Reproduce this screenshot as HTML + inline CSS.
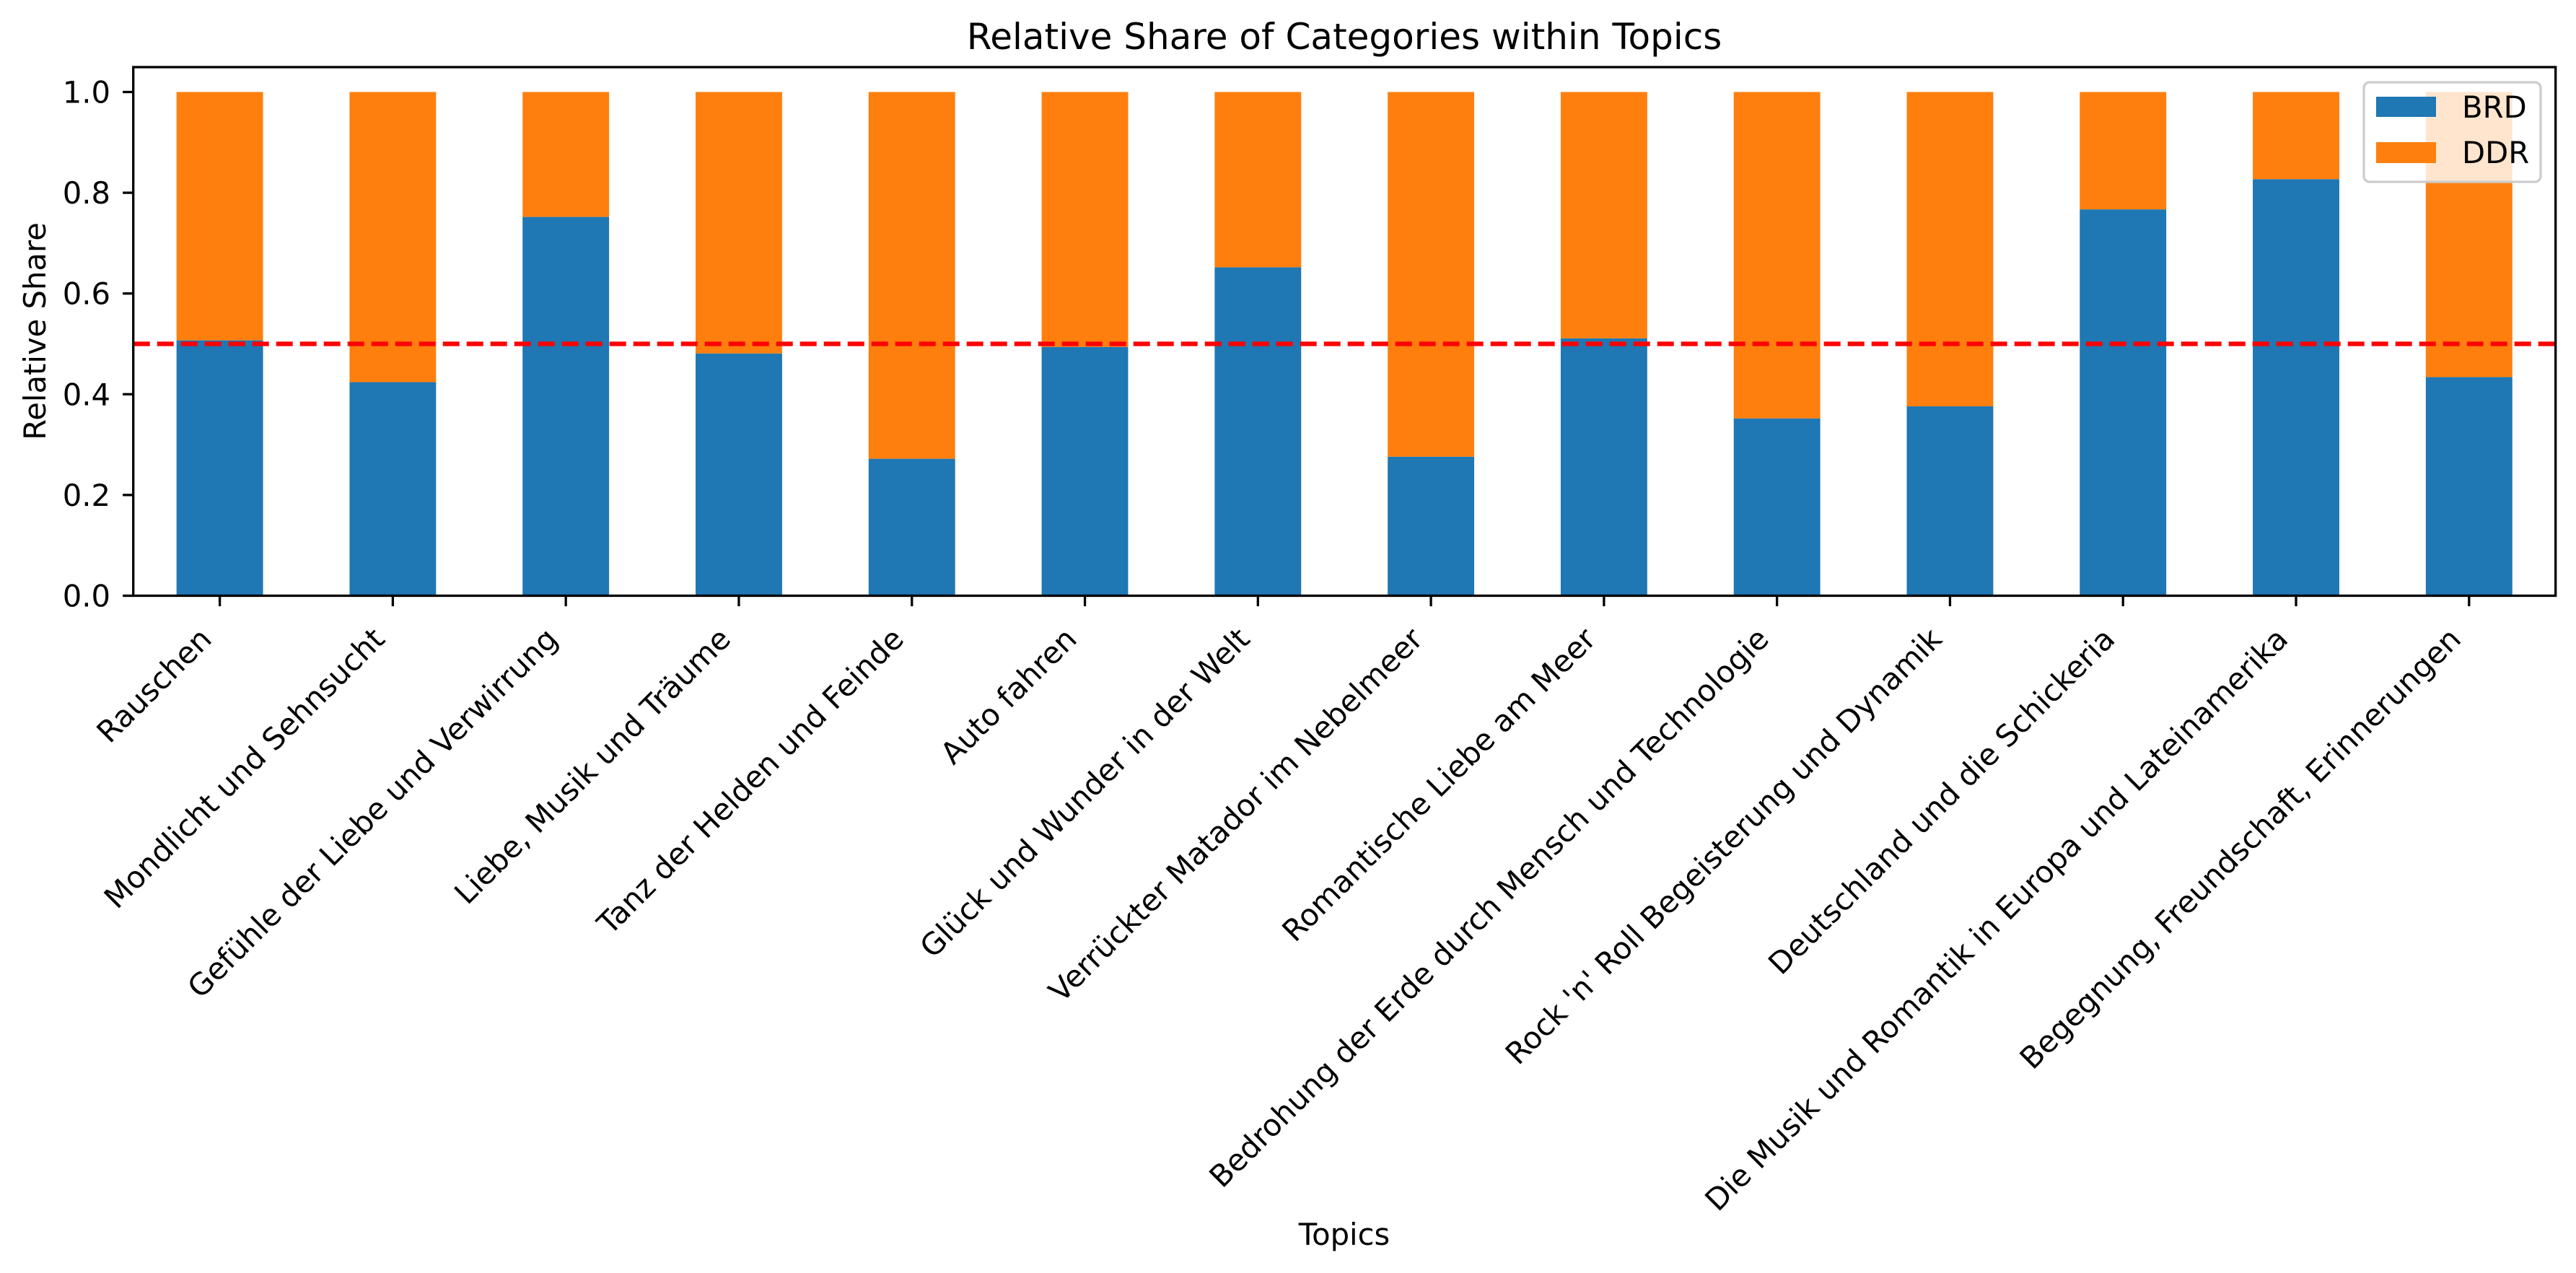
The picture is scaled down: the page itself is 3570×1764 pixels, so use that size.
<!DOCTYPE html>
<html><head><meta charset="utf-8"><style>
html,body{margin:0;padding:0;background:#fff;}
svg{display:block;font-family:"DejaVu Sans","Liberation Sans",sans-serif;}
</style></head><body>
<svg id="chart" width="3570" height="1764" viewBox="0 0 3570 1764" xmlns="http://www.w3.org/2000/svg">
<rect x="0" y="0" width="3570" height="1764" fill="#fff"/>
<text x="1863" y="68" font-size="50" text-anchor="middle" fill="#000">Relative Share of Categories within Topics</text>
<text x="0" y="0" font-size="41.7" text-anchor="middle" fill="#000" transform="translate(63,459) rotate(-90)">Relative Share</text>
<text x="1863" y="1725" font-size="41.7" text-anchor="middle" fill="#000">Topics</text>
<g id="bars"></g>
<g id="xticks"></g>
<g id="yticks"></g>
<line id="refline" stroke="#ff0000" stroke-width="6.25" stroke-dasharray="23,10"/>
<rect x="184.7" y="93" width="3357" height="732.5" fill="none" stroke="#000" stroke-width="3.3"/>
<g>
<rect x="3276" y="114" width="245" height="138" rx="8" fill="#fff" fill-opacity="0.8" stroke="#cccccc" stroke-width="3.3"/>
<rect x="3293" y="134" width="83" height="28" fill="#1f77b4"/>
<text x="3412" y="163" font-size="41.7" fill="#000">BRD</text>
<rect x="3293" y="197" width="83" height="29" fill="#ff7f0e"/>
<text x="3412" y="226" font-size="41.7" fill="#000">DDR</text>
</g>
</svg>
<script>
const categories = ["Rauschen","Mondlicht und Sehnsucht","Gefühle der Liebe und Verwirrung","Liebe, Musik und Träume","Tanz der Helden und Feinde","Auto fahren","Glück und Wunder in der Welt","Verrückter Matador im Nebelmeer","Romantische Liebe am Meer","Bedrohung der Erde durch Mensch und Technologie","Rock 'n' Roll Begeisterung und Dynamik","Deutschland und die Schickeria","Die Musik und Romantik in Europa und Lateinamerika","Begegnung, Freundschaft, Erinnerungen"];
const brdValues = [0.507,0.424,0.752,0.481,0.272,0.494,0.652,0.276,0.511,0.352,0.376,0.767,0.827,0.434];
const ddrValues = [0.493,0.576,0.248,0.519,0.728,0.506,0.348,0.724,0.489,0.648,0.624,0.233,0.173,0.566];
const yTicks = [0.0,0.2,0.4,0.6,0.8,1.0];
const yTickLabels = ["0.0","0.2","0.4","0.6","0.8","1.0"];
const refValue = 0.5;

const NS="http://www.w3.org/2000/svg";
const L=184.7,R=3541.7,Y0=825.5,UNIT=698;
const n=categories.length;
const step=(R-L)/n;
function xc(i){return L+step*(i+0.5);}
function y(v){return Y0-v*UNIT;}
const bw=step*0.5;
const bars=document.getElementById('bars');
for(let i=0;i<n;i++){
  const b=document.createElementNS(NS,'rect');
  b.setAttribute('x',xc(i)-bw/2);b.setAttribute('width',bw);
  b.setAttribute('y',y(brdValues[i]));b.setAttribute('height',Y0-y(brdValues[i]));
  b.setAttribute('fill','#1f77b4');
  
  
  bars.appendChild(b);
  const d=document.createElementNS(NS,'rect');
  const top=brdValues[i]+ddrValues[i];
  d.setAttribute('x',xc(i)-bw/2);d.setAttribute('width',bw);
  d.setAttribute('y',y(top));d.setAttribute('height',y(brdValues[i])-y(top));
  d.setAttribute('fill','#ff7f0e');
  
  
  bars.appendChild(d);
}
const xt=document.getElementById('xticks');
for(let i=0;i<n;i++){
  const t=document.createElementNS(NS,'line');
  t.setAttribute('x1',xc(i));t.setAttribute('x2',xc(i));
  t.setAttribute('y1',Y0);t.setAttribute('y2',Y0+14.6);
  t.setAttribute('stroke','#000');t.setAttribute('stroke-width','3.3');
  
  
  xt.appendChild(t);
  const tx=document.createElementNS(NS,'text');
  const ex=xc(i)-9, ey=888;
  tx.setAttribute('x',ex);tx.setAttribute('y',ey);
  tx.setAttribute('text-anchor','end');tx.setAttribute('font-size','41.7');
  tx.setAttribute('transform','rotate(-45 '+ex+' '+ey+')');
  tx.textContent=categories[i];
  
  
  xt.appendChild(tx);
}
const yt=document.getElementById('yticks');
for(let k=0;k<yTicks.length;k++){
  const yy=y(yTicks[k]);
  const t=document.createElementNS(NS,'line');
  t.setAttribute('x1',L-14.6);t.setAttribute('x2',L);
  t.setAttribute('y1',yy);t.setAttribute('y2',yy);
  t.setAttribute('stroke','#000');t.setAttribute('stroke-width','3.3');
  
  
  yt.appendChild(t);
  const tx=document.createElementNS(NS,'text');
  tx.setAttribute('x',153);tx.setAttribute('y',yy+15);
  tx.setAttribute('text-anchor','end');tx.setAttribute('font-size','41.7');
  tx.textContent=yTickLabels[k];
  
  
  yt.appendChild(tx);
}
const rl=document.getElementById('refline');
rl.setAttribute('x1',L);rl.setAttribute('x2',R);
rl.setAttribute('y1',y(refValue));rl.setAttribute('y2',y(refValue));
</script>
</body></html>
